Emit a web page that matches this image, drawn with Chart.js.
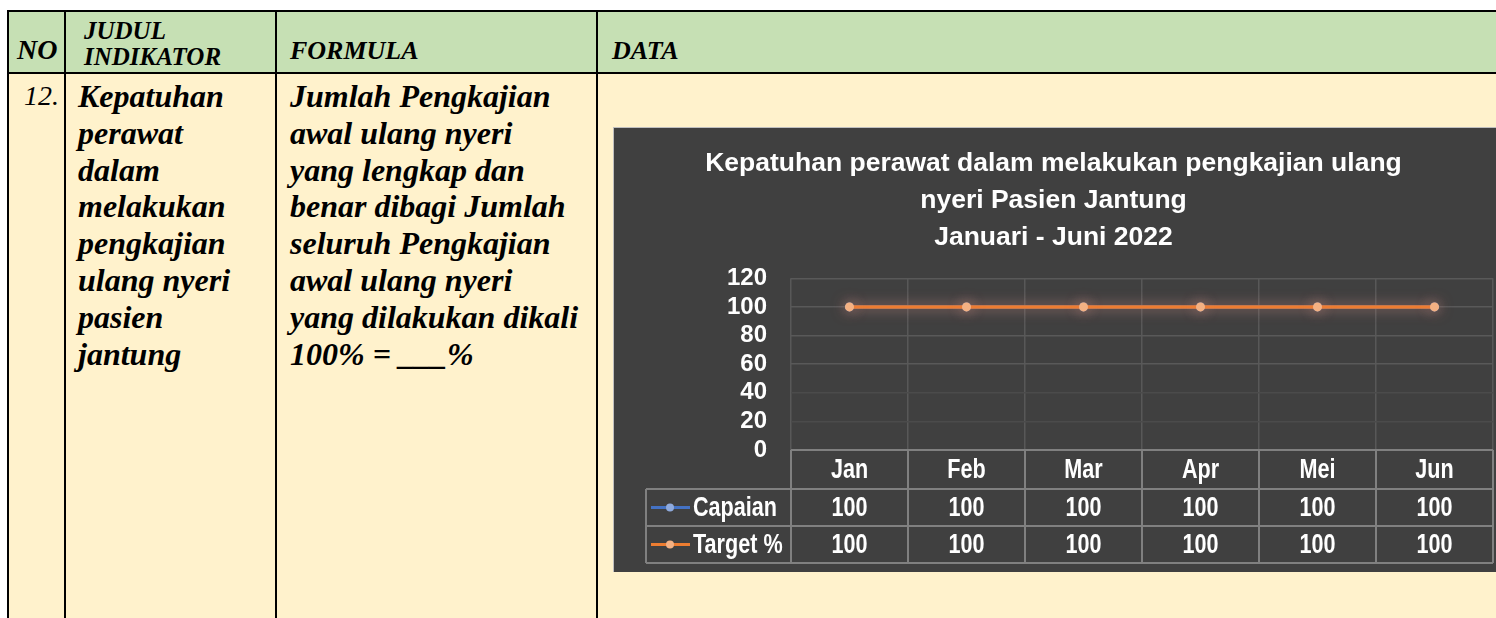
<!DOCTYPE html>
<html>
<head>
<meta charset="utf-8">
<script src="https://cdn.jsdelivr.net/npm/chart.js@4.4.0/dist/chart.umd.min.js"></script>
<style>
  body { margin: 0; background: #fff; width: 1496px; height: 618px; overflow: hidden; position: relative; }
  .cell { position: absolute; box-sizing: border-box; border-left: 2.5px solid #000; border-top: 2.5px solid #000;
          font-family: "Liberation Serif", "Times New Roman", serif; font-style: italic; font-weight: bold; color: #000; }
  .head { top: 10px; height: 64px; background: #c6e0b4; font-size: 26px; }
  .body { top: 72px; height: 560px; background: #fff2cc; font-size: 32px; line-height: 36.8px; }
  #chartBox { position: absolute; left: 613px; top: 127px; width: 905px; height: 445px; background: #404040;
              box-sizing: border-box; border-top: 1px solid #bfbfbf; border-left: 1px solid #bfbfbf; }
</style>
</head>
<body>
<div class="cell head" style="left:7px;width:59px;padding:22px 0 0 8px;font-size:28px;">NO</div>
<div class="cell head" style="left:64px;width:214px;padding:6px 0 0 18px;font-size:25px;line-height:26px;">JUDUL<br>INDIKATOR</div>
<div class="cell head" style="left:275px;width:325px;padding:24px 0 0 13px;">FORMULA</div>
<div class="cell head" style="left:596px;width:920px;padding:24px 0 0 14px;">DATA</div>

<div class="cell body" style="left:7px;width:59px;padding:4px 7px 0 0;text-align:right;font-weight:normal;font-size:28px;">12.</div>
<div class="cell body" style="left:64px;width:214px;padding:4px 0 0 12px;">Kepatuhan<br>perawat<br>dalam<br>melakukan<br>pengkajian<br>ulang nyeri<br>pasien<br>jantung</div>
<div class="cell body" style="left:275px;width:325px;padding:4px 0 0 13px;">Jumlah Pengkajian<br>awal ulang nyeri<br>yang lengkap dan<br>benar dibagi Jumlah<br>seluruh Pengkajian<br>awal ulang nyeri<br>yang dilakukan dikali<br>100% = ___%</div>
<div class="cell body" style="left:596px;width:920px;"></div>

<div id="chartBox"><canvas id="chart"></canvas></div>

<script>
// chart data
const categories = ['Jan', 'Feb', 'Mar', 'Apr', 'Mei', 'Jun'];
const capaian = [100, 100, 100, 100, 100, 100];
const target = [100, 100, 100, 100, 100, 100];
const seriesNames = ['Capaian', 'Target %'];
const titleLines = ['Kepatuhan perawat dalam melakukan pengkajian ulang', 'nyeri Pasien Jantung', 'Januari - Juni 2022'];
const yMin = 0, yMax = 120, yStep = 20;

const sans = '"Liberation Sans", Arial, sans-serif';
const lineColors = ['#4472c4', '#ed7d31'];
const dotColors = ['#8faadc', '#f4b183'];

// no narrow font here, so squeeze the table text a bit
function narrowText(ctx, text, x, y, align) {
    ctx.save();
    ctx.translate(x, y);
    ctx.scale(0.8, 1);
    ctx.textAlign = align;
    ctx.fillText(text, 0, 0);
    ctx.restore();
}

// glow around the lines, like the excel preset
const glow = {
    id: 'glow',
    beforeDatasetDraw(chart, args) {
        const ctx = chart.ctx;
        ctx.save();
        ctx.shadowColor = args.index === 1 ? 'rgba(240,130,80,0.65)' : 'rgba(120,150,220,0.4)';
        ctx.shadowBlur = 14;
    },
    afterDatasetDraw(chart) {
        chart.ctx.restore();
    }
};

// data table under the plot, columns follow the x scale
const dataTable = {
    id: 'dataTable',
    afterDraw(chart) {
        const ctx = chart.ctx;
        const x = chart.scales.x;
        const area = chart.chartArea;
        const half = (x.getPixelForValue(1) - x.getPixelForValue(0)) / 2;
        const left = x.getPixelForValue(0) - half;
        const right = x.getPixelForValue(categories.length - 1) + half;
        const keyLeft = 32;
        const rows = [area.bottom, area.bottom + 39, area.bottom + 76, area.bottom + 113];

        ctx.save();
        ctx.strokeStyle = '#808080';
        ctx.lineWidth = 2;
        ctx.beginPath();
        ctx.moveTo(left, rows[0]); ctx.lineTo(right, rows[0]);
        for (let r = 1; r < rows.length; r++) {
            ctx.moveTo(keyLeft, rows[r]); ctx.lineTo(right, rows[r]);
        }
        ctx.moveTo(keyLeft, rows[1]); ctx.lineTo(keyLeft, rows[3]);
        for (let i = 0; i <= categories.length; i++) {
            const px = left + i * half * 2;
            ctx.moveTo(px, rows[0]); ctx.lineTo(px, rows[3]);
        }
        ctx.stroke();

        ctx.fillStyle = '#ffffff';
        ctx.textBaseline = 'middle';
        ctx.font = 'bold 27px ' + sans;
        categories.forEach((c, i) => {
            narrowText(ctx, c, x.getPixelForValue(i), (rows[0] + rows[1]) / 2 + 1, 'center');
        });
        chart.data.datasets.forEach((ds, d) => {
            const cy = (rows[d + 1] + rows[d + 2]) / 2 + 1;
            ds.data.forEach((v, i) => {
                narrowText(ctx, String(v), x.getPixelForValue(i), cy, 'center');
            });
        });

        // legend keys
        chart.data.datasets.forEach((ds, d) => {
            const cy = (rows[d + 1] + rows[d + 2]) / 2;
            ctx.strokeStyle = lineColors[d];
            ctx.lineWidth = 3;
            ctx.beginPath();
            ctx.moveTo(37, cy); ctx.lineTo(76, cy);
            ctx.stroke();
            ctx.fillStyle = dotColors[d];
            ctx.beginPath();
            ctx.arc(56, cy, 4, 0, Math.PI * 2);
            ctx.fill();
            ctx.fillStyle = '#ffffff';
            narrowText(ctx, ds.label, 79, cy + 1, 'left');
        });
        ctx.restore();
    }
};

new Chart(document.getElementById('chart'), {
    type: 'line',
    data: {
        labels: categories,
        datasets: [{
            label: seriesNames[0],
            data: capaian,
            borderColor: lineColors[0],
            backgroundColor: dotColors[0],
            pointBackgroundColor: dotColors[0],
            borderWidth: 3.5,
            pointRadius: 4.5,
            pointBorderWidth: 0,
            order: 2
        }, {
            label: seriesNames[1],
            data: target,
            borderColor: lineColors[1],
            backgroundColor: dotColors[1],
            pointBackgroundColor: dotColors[1],
            borderWidth: 3.5,
            pointRadius: 4.5,
            pointBorderWidth: 0,
            order: 1
        }]
    },
    options: {
        responsive: true,
        maintainAspectRatio: false,
        animation: false,
        layout: { padding: { left: 0, right: 25, top: 0, bottom: 122 } },
        plugins: {
            legend: { display: false },
            tooltip: { enabled: false },
            title: {
                display: true,
                text: titleLines,
                color: '#ffffff',
                font: { family: sans, size: 26.5, weight: 'bold', lineHeight: 1.4 },
                padding: { top: 17, bottom: 22 }
            }
        },
        scales: {
            x: {
                offset: true,
                ticks: { display: false },
                border: { display: false },
                grid: {
                    offset: true,
                    drawTicks: false,
                    color: '#585858',
                    lineWidth: 1.5
                }
            },
            y: {
                min: yMin,
                max: yMax,
                ticks: {
                    stepSize: yStep,
                    autoSkip: false,
                    color: '#ffffff',
                    padding: 24,
                    font: { family: sans, size: 24, weight: 'bold', lineHeight: 1 }
                },
                border: { display: false },
                grid: {
                    drawTicks: false,
                    lineWidth: 1.5,
                    color: c => c.tick && c.tick.value >= 60 ? '#595959' : '#4b4b4b'
                },
                afterFit(scale) { scale.width = 177; }
            }
        }
    },
    plugins: [glow, dataTable]
});
</script>
</body>
</html>
